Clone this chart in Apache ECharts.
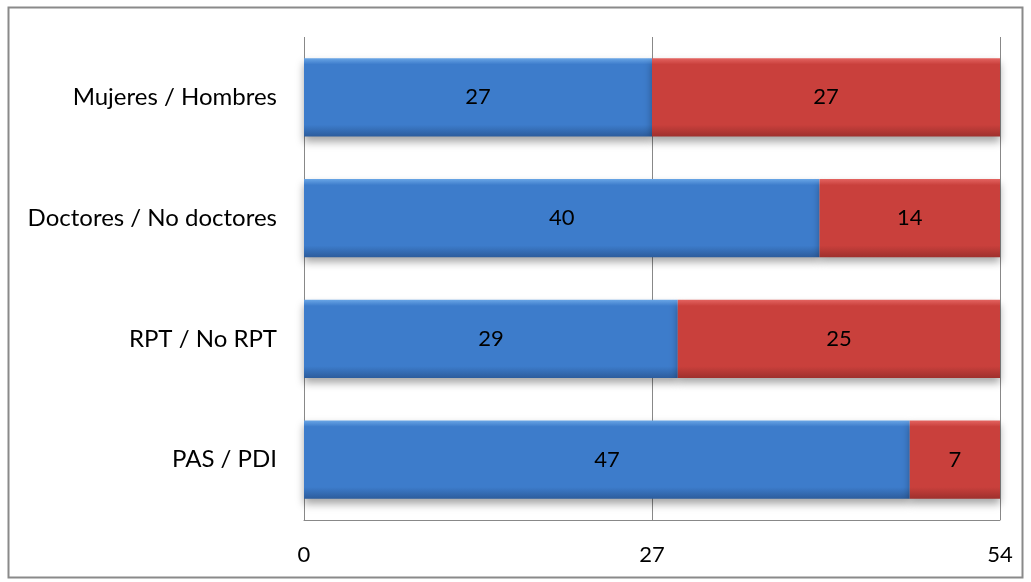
<!DOCTYPE html>
<html><head><meta charset="utf-8">
<script src="https://cdn.jsdelivr.net/npm/echarts@6/dist/echarts.min.js"></script>
<style>html,body{margin:0;padding:0;background:#fff}#c{width:1031px;height:582px;}</style>
</head><body><div id="c"></div>
<script>
const categories = ['PAS / PDI', 'RPT / No RPT', 'Doctores / No doctores', 'Mujeres / Hombres'];
const firstValues = [47, 29, 40, 27];
const secondValues = [7, 25, 14, 27];
const xTicks = [0, 27, 54];

const chart = echarts.init(document.getElementById('c'));
const font = 'Lato, "Open Sans", sans-serif';
function grad(top, mid, bot) {
  return new echarts.graphic.LinearGradient(0, 0, 0, 1, [
    {offset: 0, color: top}, {offset: 0.08, color: mid}, {offset: 0.85, color: mid}, {offset: 1, color: bot}
  ]);
}
chart.setOption({
  animation: false,
  graphic: [{type: 'rect', shape: {x: 8.5, y: 7.5, width: 1014, height: 570}, style: {fill: 'none', stroke: '#8a8a8a', lineWidth: 2}}],
  grid: {left: 304, right: 31, top: 37, bottom: 62},
  xAxis: {
    type: 'value', min: xTicks[0], max: xTicks[xTicks.length - 1], interval: 27,
    axisLine: {show: true, lineStyle: {color: '#888', width: 1}},
    axisTick: {show: false},
    splitLine: {show: true, lineStyle: {color: '#888', width: 1}},
    axisLabel: {color: '#000', fontSize: 22, fontFamily: font, margin: 24}
  },
  yAxis: {
    type: 'category', data: categories,
    axisLine: {show: false}, axisTick: {show: false},
    axisLabel: {color: '#000', fontSize: 24, fontFamily: font, margin: 27}
  },
  series: [
    {type: 'bar', stack: 's', data: firstValues, barWidth: '65%',
     itemStyle: {color: grad('#6aa6e6', '#3d7ccb', '#2c5c9c'), shadowColor: 'rgba(0,0,0,0.35)', shadowBlur: 8, shadowOffsetY: 5},
     label: {show: true, position: 'inside', color: '#000', fontSize: 22, fontFamily: font}},
    {type: 'bar', stack: 's', data: secondValues, barWidth: '65%',
     itemStyle: {color: grad('#e46461', '#c9403c', '#9e302d'), shadowColor: 'rgba(0,0,0,0.35)', shadowBlur: 8, shadowOffsetY: 5},
     label: {show: true, position: 'inside', color: '#000', fontSize: 22, fontFamily: font}}
  ]
});
</script></body></html>
